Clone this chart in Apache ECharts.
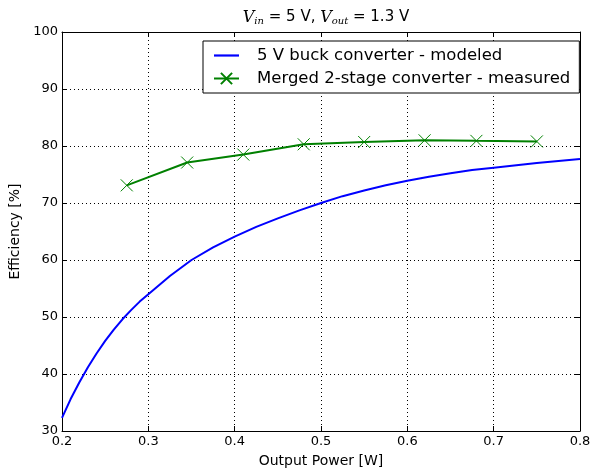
<!DOCTYPE html>
<html>
<head>
<meta charset="utf-8">
<script src="https://cdn.jsdelivr.net/npm/echarts@6/dist/echarts.min.js"></script>
<style>
  html, body { margin: 0; padding: 0; background: #fff; }
  #chart { width: 600px; height: 473px; }
</style>
</head>
<body>
<div id="chart"></div>
<script>
// modeled buck converter curve
var buckPower = [0.2, 0.21, 0.22, 0.23, 0.24, 0.25, 0.26, 0.27, 0.28, 0.29, 0.30, 0.325, 0.35, 0.375, 0.40,
                 0.425, 0.45, 0.475, 0.50, 0.525, 0.55, 0.575, 0.60, 0.625, 0.65, 0.675, 0.70, 0.75, 0.80];
var buckEff = [32.3, 35.6, 38.5, 41.2, 43.6, 45.8, 47.8, 49.6, 51.2, 52.7, 54.0, 57.2, 60.0, 62.2, 64.1,
               65.8, 67.3, 68.7, 70.0, 71.2, 72.2, 73.1, 73.9, 74.6, 75.2, 75.8, 76.2, 77.0, 77.7];

// measured merged 2-stage converter
var mergedPower = [0.275, 0.345, 0.41, 0.48, 0.55, 0.62, 0.68, 0.75];
var mergedEff = [73.1, 77.1, 78.5, 80.3, 80.7, 81.0, 80.9, 80.8];

var xTicks = [0.2, 0.3, 0.4, 0.5, 0.6, 0.7, 0.8];
var yTicks = [30, 40, 50, 60, 70, 80, 90, 100];

var seriesNames = ['5 V buck converter - modeled', 'Merged 2-stage converter - measured'];

function pairs(xs, ys) {
    return xs.map(function (x, i) { return [x, ys[i]]; });
}

var FONT = 'DejaVu Sans';
var crossPath = 'path://M0,0L10,10M0,10L10,0';

var chart = echarts.init(document.getElementById('chart'));

var option = {
    backgroundColor: '#fff',
    animation: false,
    textStyle: { fontFamily: FONT, color: '#000' },
    title: {
        text: '{v|V}{sub|in}{t| = 5 V, }{v|V}{sub|out}{t| = 1.3 V}',
        left: 321,
        textAlign: 'center',
        top: 4,
        textStyle: {
            fontWeight: 'normal',
            rich: {
                v: { fontFamily: 'DejaVu Serif', fontStyle: 'italic', fontWeight: 'normal', fontSize: 16, color: '#000' },
                sub: { fontFamily: 'DejaVu Serif', fontStyle: 'italic', fontWeight: 'normal', fontSize: 10, color: '#000', padding: [7, 0, 0, 0] },
                t: { fontFamily: FONT, fontWeight: 'normal', fontSize: 15, color: '#000' }
            }
        }
    },
    legend: {
        left: 203,
        top: 41,
        orient: 'vertical',
        align: 'left',
        backgroundColor: '#fff',
        borderColor: '#000',
        borderWidth: 1,
        borderRadius: 0,
        padding: [6, 9, 6, 10],
        itemGap: 6,
        itemWidth: 25,
        itemHeight: 14,
        textStyle: { fontFamily: FONT, fontSize: 16.5, color: '#000', padding: [0, 0, 0, 13] },
        data: [
            { name: seriesNames[0], icon: 'path://M0,0L25,0L25,2.2L0,2.2Z' },
            { name: seriesNames[1] }
        ]
    },
    grid: { left: 62, right: 20, top: 32, bottom: 37, show: false },
    xAxis: [{
        type: 'value',
        min: xTicks[0],
        max: xTicks[xTicks.length - 1],
        interval: 0.1,
        name: 'Output Power [W]',
        nameLocation: 'middle',
        nameGap: 23,
        nameTextStyle: { fontFamily: FONT, fontSize: 14, color: '#000' },
        axisLine: { show: true, onZero: false, lineStyle: { color: '#000', width: 1 } },
        axisTick: { show: true, inside: true, length: 5, lineStyle: { color: '#000' } },
        axisLabel: { fontFamily: FONT, fontSize: 13, color: '#000', margin: 4,
                     formatter: function (v) { return v.toFixed(1); } },
        splitLine: { show: true, lineStyle: { color: '#000', type: [1, 3], width: 1 } }
    }, {
        type: 'value',
        position: 'top',
        min: xTicks[0],
        max: xTicks[xTicks.length - 1],
        interval: 0.1,
        axisLine: { show: true, onZero: false, lineStyle: { color: '#000', width: 1 } },
        axisTick: { show: true, inside: true, length: 5, lineStyle: { color: '#000' } },
        axisLabel: { show: false },
        splitLine: { show: false }
    }],
    yAxis: [{
        type: 'value',
        min: yTicks[0],
        max: yTicks[yTicks.length - 1],
        interval: 10,
        name: 'Efficiency [%]',
        nameLocation: 'middle',
        nameGap: 26,
        nameTextStyle: { fontFamily: FONT, fontSize: 14, color: '#000' },
        axisLine: { show: true, onZero: false, lineStyle: { color: '#000', width: 1 } },
        axisTick: { show: true, inside: true, length: 5, lineStyle: { color: '#000' } },
        axisLabel: { fontFamily: FONT, fontSize: 13, color: '#000', margin: 4 },
        splitLine: { show: true, lineStyle: { color: '#000', type: [1, 3], width: 1 } }
    }, {
        type: 'value',
        position: 'right',
        min: yTicks[0],
        max: yTicks[yTicks.length - 1],
        interval: 10,
        axisLine: { show: true, onZero: false, lineStyle: { color: '#000', width: 1 } },
        axisTick: { show: true, inside: true, length: 5, lineStyle: { color: '#000' } },
        axisLabel: { show: false },
        splitLine: { show: false }
    }],
    series: [{
        name: seriesNames[0],
        type: 'line',
        data: pairs(buckPower, buckEff),
        showSymbol: false,
        symbol: 'none',
        smooth: false,
        color: '#0000ff',
        lineStyle: { color: '#0000ff', width: 2 }
    }, {
        name: seriesNames[1],
        type: 'line',
        data: pairs(mergedPower, mergedEff),
        symbol: crossPath,
        symbolSize: 12,
        showAllSymbol: true,
        color: '#008000',
        lineStyle: { color: '#008000', width: 2 },
        itemStyle: { color: 'none', borderColor: '#008000', borderWidth: 1 }
    }]
};

chart.setOption(option);
</script>
</body>
</html>
